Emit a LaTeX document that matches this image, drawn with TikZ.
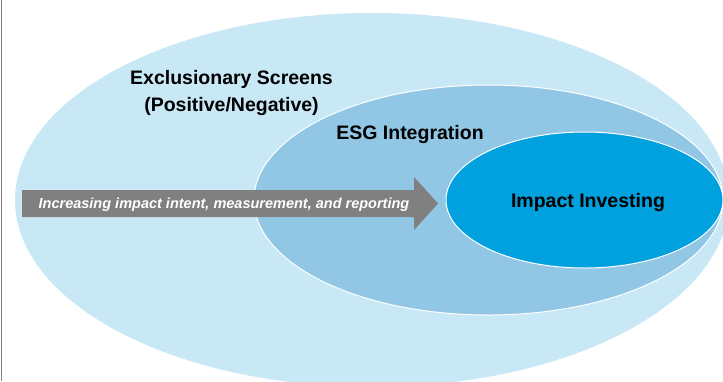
\documentclass[tikz,border=0pt]{standalone}
\usepackage{fontspec}
\setmainfont{Liberation Sans}
\usetikzlibrary{shapes.geometric}
\definecolor{screenblue}{RGB}{199,232,244}
\definecolor{esgblue}{RGB}{145,198,229}
\definecolor{impactblue}{RGB}{0,161,222}
\definecolor{arrowgray}{RGB}{128,128,128}

\begin{document}
\begin{tikzpicture}[x=1pt, y=-1pt,
    ring/.style={ellipse, inner sep=0pt, draw=white, line width=1pt},
    ringtext/.style={font=\bfseries\fontsize{19.5}{27}\selectfont, align=center}]
\useasboundingbox (0,0) rectangle (723,381);

\begin{scope}
\clip (0,0) rectangle (723,381);
% Exclusionary Screens
\node[ring, draw=none, fill=screenblue, minimum width=714pt, minimum height=374pt] (screens) at (372,200) {};

% ESG Integration
\node[ring, fill=esgblue, minimum width=469pt, minimum height=230pt] (esg) at (488.5,200) {};

% Impact Investing
\node[ring, fill=impactblue, minimum width=277pt, minimum height=136pt] (impact) at (584.5,200) {};
\end{scope}

% left frame line
\draw[arrowgray, line width=1.3pt] (1.5,0) -- (1.5,381);

% Labels
\node[ringtext] (screenslabel) at (231.5,93) {Exclusionary Screens\\(Positive/Negative)};
\node[ringtext] (esglabel) at (410,134) {ESG Integration};
\node[ringtext] (impactlabel) at (588,202) {Impact Investing};

% Arrow
\fill[arrowgray] (22,190) -- (414,190) -- (414,177) -- (438,203.5) -- (414,230) -- (414,217) -- (22,217) -- cycle;
\node[text=white, font=\bfseries\itshape\fontsize{14.5}{17}\selectfont] (trend) at (224,204.5) {Increasing impact intent, measurement, and reporting};
\end{tikzpicture}
\end{document}
